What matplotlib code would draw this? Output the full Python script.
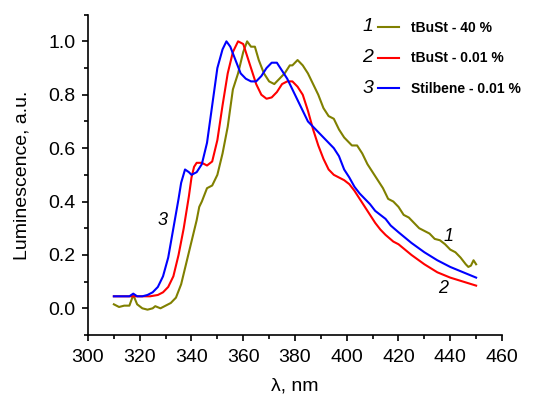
import matplotlib.pyplot as plt
from matplotlib.ticker import MultipleLocator

plt.rcParams['font.family'] = ['Liberation Sans', 'DejaVu Sans']

# 1 - tBuSt 40 %
wl1 = [310, 312, 314, 316, 317.5, 319, 321, 323, 325, 326, 328, 330, 332, 334, 336, 338,
       340, 342, 343, 344, 346, 348, 350, 352, 354, 356, 358, 360, 361.5, 363, 364.5, 366,
       368, 370, 372, 374, 376, 378, 379, 381, 383, 385, 387, 389, 391, 393, 395, 397, 399,
       400, 402, 404, 406, 408, 410, 412, 414, 416, 418, 420, 422, 424, 426, 428, 430, 432,
       434, 436, 438, 440, 442, 444, 446, 447, 448, 449, 450]
lum1 = [0.015, 0.005, 0.01, 0.01, 0.05, 0.015, 0.0, -0.005, 0.0, 0.008, 0.0, 0.01, 0.02,
        0.04, 0.09, 0.17, 0.25, 0.33, 0.38, 0.40, 0.45, 0.46, 0.50, 0.58, 0.68, 0.82, 0.88,
        0.96, 1.0, 0.98, 0.98, 0.93, 0.88, 0.85, 0.84, 0.86, 0.88, 0.91, 0.91, 0.93, 0.91,
        0.88, 0.84, 0.80, 0.75, 0.72, 0.71, 0.67, 0.64, 0.63, 0.61, 0.61, 0.58, 0.54, 0.51,
        0.48, 0.45, 0.41, 0.40, 0.38, 0.35, 0.34, 0.32, 0.30, 0.29, 0.28, 0.26, 0.255, 0.24,
        0.22, 0.21, 0.19, 0.165, 0.155, 0.16, 0.18, 0.165]

# 2 - tBuSt 0.01 %
wl2 = [310, 315, 318, 320, 324, 327, 329, 331, 333, 335, 337, 339, 340, 341, 342, 344, 346,
       348, 350, 352, 354, 356, 358, 360, 361, 363, 365, 367, 369, 371, 373, 375, 377, 379,
       381, 383, 385, 387, 389, 391, 393, 395, 397, 399, 401, 403, 405, 407, 409, 411, 413,
       415, 418, 420, 425, 430, 435, 440, 445, 450]
lum2 = [0.045, 0.045, 0.045, 0.045, 0.045, 0.05, 0.06, 0.08, 0.12, 0.20, 0.30, 0.42, 0.49,
        0.53, 0.545, 0.545, 0.535, 0.55, 0.63, 0.76, 0.88, 0.96, 1.0, 0.99, 0.96, 0.90, 0.84,
        0.80, 0.785, 0.79, 0.81, 0.84, 0.85, 0.85, 0.83, 0.80, 0.74, 0.67, 0.61, 0.56, 0.52,
        0.50, 0.49, 0.48, 0.465, 0.44, 0.41, 0.38, 0.35, 0.32, 0.295, 0.275, 0.25, 0.24, 0.20,
        0.165, 0.135, 0.115, 0.10, 0.085]

# 3 - Stilbene 0.01 %
wl3 = [310, 313, 316, 317.5, 319, 321, 323, 325, 327, 329, 331, 333, 335, 336, 337.5, 339,
       340, 342, 344, 346, 348, 350, 352, 353.5, 355, 357, 359, 361, 363, 365, 367, 369, 371,
       373, 375, 377, 379, 381, 383, 385, 387, 389, 391, 393, 395, 397, 399, 401, 403, 405,
       407, 409, 411, 413, 415, 417, 420, 425, 430, 435, 440, 445, 450]
lum3 = [0.045, 0.045, 0.045, 0.055, 0.045, 0.045, 0.05, 0.06, 0.08, 0.12, 0.19, 0.30, 0.41,
        0.47, 0.52, 0.51, 0.50, 0.51, 0.54, 0.62, 0.76, 0.90, 0.97, 1.0, 0.98, 0.93, 0.88,
        0.86, 0.85, 0.85, 0.87, 0.90, 0.92, 0.92, 0.89, 0.86, 0.82, 0.78, 0.74, 0.70, 0.68,
        0.66, 0.64, 0.62, 0.60, 0.57, 0.52, 0.49, 0.455, 0.43, 0.41, 0.39, 0.365, 0.35, 0.335,
        0.31, 0.285, 0.245, 0.21, 0.18, 0.155, 0.135, 0.115]

labels = ["tBuSt - 40 %", "tBuSt - 0.01 %", "Stilbene - 0.01 %"]
colors = ["#808000", "#ff0000", "#0000ff"]


def main():
    fig = plt.figure(figsize=(5.52, 3.96), dpi=100)
    ax = fig.add_axes([0.1594, 0.154, 0.75, 0.809])

    lines = []
    for wl, lum, c in zip([wl1, wl2, wl3], [lum1, lum2, lum3], colors):
        ln, = ax.plot(wl, lum, color=c, lw=1.5)
        lines.append(ln)

    ax.set_xlim(300, 460)
    ax.set_ylim(-0.1, 1.1)
    ax.xaxis.set_major_locator(MultipleLocator(20))
    ax.xaxis.set_minor_locator(MultipleLocator(10))
    ax.yaxis.set_major_locator(MultipleLocator(0.2))
    ax.yaxis.set_minor_locator(MultipleLocator(0.1))
    ax.yaxis.set_major_formatter(plt.FormatStrFormatter('%.1f'))
    for s in ['top', 'right']:
        ax.spines[s].set_visible(False)
    for s in ['left', 'bottom']:
        ax.spines[s].set_linewidth(1.2)
    ax.tick_params(which='major', direction='out', length=4, width=1.2, labelsize=14)
    ax.tick_params(axis='x', which='major', pad=6)
    ax.tick_params(axis='y', which='major', pad=5)
    ax.tick_params(which='minor', direction='out', length=3, width=1.2)
    ax.set_xlabel("λ, nm", fontsize=14, labelpad=8)
    ax.set_ylabel("Luminescence, a.u.", fontsize=14, labelpad=13)

    # curve numbers
    ax.text(329, 0.33, "3", fontsize=13, style='italic', ha='center', va='center')
    ax.text(439.5, 0.27, "1", fontsize=13, style='italic', ha='center', va='center')
    ax.text(437.2, 0.074, "2", fontsize=13, style='italic', ha='center', va='center')

    leg = ax.legend(lines, labels, loc='upper left', bbox_to_anchor=(0.67, 1.02),
                    frameon=False, prop={'weight': 'bold', 'size': 10},
                    handlelength=1.5, handletextpad=0.9, labelspacing=1.2)
    fig.canvas.draw()
    for i, h in enumerate(leg.legend_handles):
        bb = h.get_window_extent(fig.canvas.get_renderer())
        x0, y0 = fig.transFigure.inverted().transform((bb.x0, (bb.y0 + bb.y1) / 2))
        fig.text(x0 - 0.008, y0, str(i + 1), fontsize=14, style='italic',
                 ha='right', va='center')

    fig.savefig("out.png", dpi=100)


if __name__ == "__main__":
    main()
